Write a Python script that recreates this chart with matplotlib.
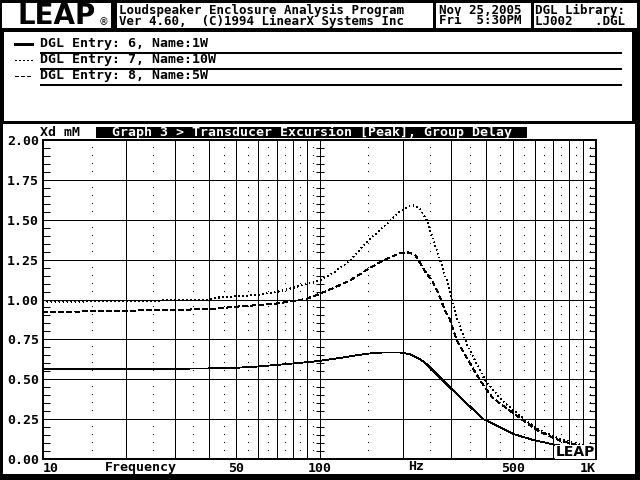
import numpy as np
import matplotlib
matplotlib.use("Agg")
import matplotlib.pyplot as plt
from matplotlib.patches import Rectangle
from matplotlib.ticker import NullLocator

# ---------------------------------------------------------------
# data (Xd in mm vs frequency in Hz)
# ---------------------------------------------------------------
freq_1w = [10, 20, 30, 40, 50, 60, 70, 85, 100, 120, 148, 170, 195, 212,
           231, 244, 273, 301, 340, 391, 450, 502, 593, 700, 783, 925, 1000]
xd_1w = [0.565, 0.565, 0.566, 0.568, 0.572, 0.58, 0.59, 0.603, 0.615, 0.635,
         0.66, 0.668, 0.668, 0.658, 0.625, 0.595, 0.51, 0.437, 0.35, 0.25,
         0.20, 0.157, 0.119, 0.092, 0.077, 0.056, 0.05]

freq_10w = [10, 20, 30, 40, 44, 50, 60, 70, 85, 100, 115, 129, 148, 170, 195,
            210, 220, 231, 244, 258, 273, 288, 301, 313, 336, 365, 397, 440,
            469, 516, 560, 627, 743, 878, 1000]
xd_10w = [0.985, 0.99, 0.995, 1.0, 1.015, 1.02, 1.03, 1.047, 1.085, 1.12, 1.18,
          1.245, 1.36, 1.455, 1.55, 1.585, 1.59, 1.57, 1.50, 1.375, 1.248,
          1.122, 1.0, 0.89, 0.746, 0.62, 0.495, 0.40, 0.35, 0.29, 0.24, 0.18,
          0.125, 0.09, 0.065]

freq_5w = [10, 20, 30, 40, 50, 60, 70, 80, 90, 100, 115, 129, 148, 170, 195,
           210, 222, 231, 244, 255, 269, 284, 297, 313, 345, 380, 420, 449,
           500, 564, 627, 743, 878, 1000]
xd_5w = [0.92, 0.93, 0.935, 0.94, 0.955, 0.965, 0.975, 0.99, 1.005, 1.035, 1.08,
         1.12, 1.185, 1.245, 1.29, 1.295, 1.28, 1.23, 1.16, 1.122, 1.039, 0.934,
         0.871, 0.746, 0.62, 0.495, 0.39, 0.349, 0.29, 0.224, 0.17, 0.115,
         0.082, 0.06]

legend_names = ["DGL Entry: 6, Name:1W",
                "DGL Entry: 7, Name:10W",
                "DGL Entry: 8, Name:5W"]
x_tick_vals = [10, 50, 100, 500, 1000]
x_tick_labels = ["10", "50", "100", "500", "1K"]
y_tick_vals = [0.0, 0.25, 0.5, 0.75, 1.0, 1.25, 1.5, 1.75, 2.0]
solid_grid = [20, 30, 40, 50, 60, 70, 80, 90, 100,
              200, 300, 400, 500, 600, 700, 800, 900]
dot_grid = [15, 25, 35, 45, 55, 65, 75, 85, 95,
            150, 250, 350, 450, 550, 650, 750, 850, 950]

MONO = "DejaVu Sans Mono"
FS = 9.5          # ~8 px per character, like the DOS screen font
PX = 0.72         # one pixel in points at dpi 100
LW = 0.6          # curve width, thin enough to stay one pixel

fig = plt.figure(figsize=(6.4, 4.8), dpi=100, facecolor="black")

# background layer in screen pixels (origin top-left)
bg = fig.add_axes([0, 0, 1, 1])
bg.set_xlim(0, 640)
bg.set_ylim(480, 0)
bg.axis("off")
bg.set_zorder(0)


def box(x0, y0, x1, y1, color="white"):
    bg.add_patch(Rectangle((x0, y0), x1 - x0, y1 - y0, facecolor=color,
                           edgecolor="none"))


def put(x, y, s, size=FS, color="black", ha="left", ls=1.2):
    bg.text(x, y, s, fontsize=size, family=MONO, weight="bold", color=color,
            ha=ha, va="center", linespacing=ls)


# header boxes
box(2, 3, 111, 28)
box(117, 3, 433, 28)
box(436, 3, 531, 28)
box(534, 3, 637, 28)
# legend panel and graph panel
box(4, 32, 632, 121)
box(3, 124, 635, 474)

# logo
bg.text(57, 16, "LEAP", fontsize=20, family="DejaVu Sans", weight="heavy",
        ha="center", va="center")
bg.text(103.5, 22.5, "\u00ae", fontsize=7, family="DejaVu Sans",
        ha="center", va="center")

# two-line header entries, rows about 9 px apart
put(119, 15.5, "Loudspeaker Enclosure Analysis Program\n"
               "Ver 4.60,  (C)1994 LinearX Systems Inc", size=9, ls=0.8)
put(439, 15.5, "Nov 25,2005\nFri  5:30PM", size=9, ls=0.8)
put(535, 15.5, "DGL Library:\nLJ002   .DGL", size=9, ls=0.8)

# legend rows
row_y = [44, 60, 76]
styles = [dict(ls="-"), dict(dashes=(1.2, 2.5)), dict(dashes=(3.5, 1.8))]
for name, ry, st in zip(legend_names, row_y, styles):
    bg.plot([15, 32], [ry, ry], color="black", lw=0.8, antialiased=False, **st)
    put(40, ry, name)
    box(40, ry + 7.5, 622, ry + 9.5, color="black")

# graph title strip
box(96, 127, 527, 138, color="black")
put(112, 132.5, "Graph 3 > Transducer Excursion [Peak], Group Delay",
    color="white")
put(40, 132, "Xd mM")

# x-axis words sitting on the character grid
put(105, 467, "Frequency")
put(408, 467, "Hz")

# ---------------------------------------------------------------
# plot area
# ---------------------------------------------------------------
ax = fig.add_axes([43 / 640, 1 - 459 / 480, (596 - 43) / 640, (459 - 140) / 480])
ax.set_zorder(1)
ax.set_xscale("log")
ax.set_xlim(10, 1000)
ax.set_ylim(0, 2.0)

for f in solid_grid:
    ax.axvline(f, color="black", lw=PX, antialiased=False, zorder=1)
for v in y_tick_vals[1:-1]:
    ax.axhline(v, color="black", lw=PX, antialiased=False, zorder=1)

minor_y = [v for v in np.arange(0.05, 2.0, 0.05) if abs(v / 0.25 - round(v / 0.25)) > 1e-6]
gx, gy = np.meshgrid(dot_grid, minor_y)
ax.plot(gx.ravel(), gy.ravel(), ",", color="black", zorder=1)
ax.plot([100] * len(minor_y), minor_y, ls="none", marker="_", ms=6,
        mew=PX, color="black", zorder=1)

ax.plot(freq_1w, xd_1w, color="black", lw=LW, antialiased=False, zorder=2)
ax.plot(freq_10w, xd_10w, color="black", lw=LW, dashes=(1.2, 4.5),
        antialiased=False, zorder=2)
ax.plot(freq_5w, xd_5w, color="black", lw=LW, dashes=(6, 4),
        antialiased=False, zorder=2)

for sp in ax.spines.values():
    sp.set_linewidth(2 * PX)

ax.set_xticks(x_tick_vals, x_tick_labels)
ax.xaxis.set_minor_locator(NullLocator())
ax.tick_params(axis="x", length=0, pad=2)
ax.set_yticks(y_tick_vals, [f"{v:.2f}" for v in y_tick_vals])
ax.set_yticks(minor_y, minor=True)
ax.tick_params(axis="y", which="major", length=0, pad=3)
ax.tick_params(axis="y", which="minor", direction="in", length=5, width=PX,
               left=True, right=True)
for lab in ax.get_xticklabels() + ax.get_yticklabels():
    lab.set_family(MONO)
    lab.set_weight("bold")
    lab.set_fontsize(FS)
ax.get_xticklabels()[0].set_ha("left")
ax.get_xticklabels()[-1].set_ha("right")

# small logo in the corner of the plot
fig.text(595 / 640, 1 - 452 / 480, "LEAP", fontsize=10, family="DejaVu Sans",
         weight="heavy", ha="right", va="center",
         bbox=dict(facecolor="white", edgecolor="none", pad=0.3))

fig.savefig("out.png", dpi=100, facecolor=fig.get_facecolor())
